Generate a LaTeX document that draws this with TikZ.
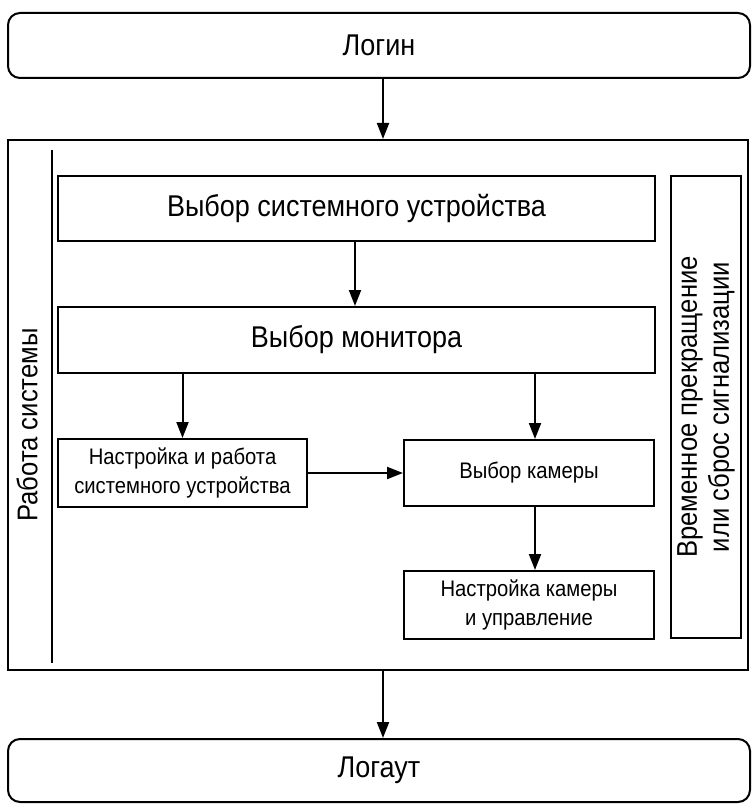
\documentclass[tikz,border=0pt]{standalone}
\usepackage{fontspec}
\setmainfont{Liberation Sans}[FakeStretch=0.9]
\usetikzlibrary{arrows.meta}
\begin{document}
\begin{tikzpicture}[x=1pt,y=-1pt,
  box/.style={draw, line width=2pt, rectangle, inner sep=0pt, align=center},
  rbox/.style={box, rounded corners=12pt},
  big/.style={font=\fontsize{30}{32}\selectfont},
  vert/.style={font=\fontsize{28.5}{32}\selectfont, rotate=90, align=center},
  small/.style={font=\fontsize{22.5}{29}\selectfont},
  arr/.style={line width=2pt, -{Triangle[length=16pt,width=12pt]}}]
\useasboundingbox (0,0) rectangle (752,805);
\node[rbox, big, minimum width=742pt, minimum height=65pt] (login) at (379,45.5) {Логин};
\node[box, minimum width=740pt, minimum height=530pt] (outer) at (378,405) {};
\coordinate (vt) at (52,150);
\coordinate (vb) at (52,663);
\draw[line width=2pt] (vt) -- (vb);
\node[vert] (work) at (27,425) {Работа системы};
\node[box, big, minimum width=597pt, minimum height=65pt] (dev) at (356.5,208.5) {Выбор системного устройства};
\node[box, big, minimum width=597pt, minimum height=66pt] (mon) at (356.5,340) {Выбор монитора};
\node[box, small, minimum width=249pt, minimum height=68pt] (setdev) at (182.5,473) {Настройка и работа\\системного устройства};
\node[box, small, minimum width=250pt, minimum height=66pt] (cam) at (529,473) {Выбор камеры};
\node[box, small, minimum width=250pt, minimum height=68pt] (camctl) at (529,605) {Настройка камеры\\и управление};
\node[box, minimum width=70pt, minimum height=462pt] (right) at (706,407) {};
\node[vert] (righttext) at (right.center) {Временное прекращение\\или сброс сигнализации};
\node[rbox, big, minimum width=742pt, minimum height=63pt] (logout) at (379,770.5) {Логаут};
\coordinate (camin) at ([xshift=6pt]cam.north);
\draw[arr] ([xshift=4pt]login.south) -- ([xshift=5pt]outer.north);
\draw[arr] ([xshift=-1.5pt]dev.south) -- ([xshift=-1.5pt]mon.north);
\draw[arr] (mon.south -| setdev.north) -- (setdev.north);
\draw[arr] (mon.south -| camin) -- (camin);
\draw[arr] (setdev.east) -- (cam.west);
\draw[arr] ([xshift=6pt]cam.south) -- ([xshift=6pt]camctl.north);
\draw[arr] ([xshift=5pt]outer.south) -- ([xshift=4pt]logout.north);
\end{tikzpicture}
\end{document}
